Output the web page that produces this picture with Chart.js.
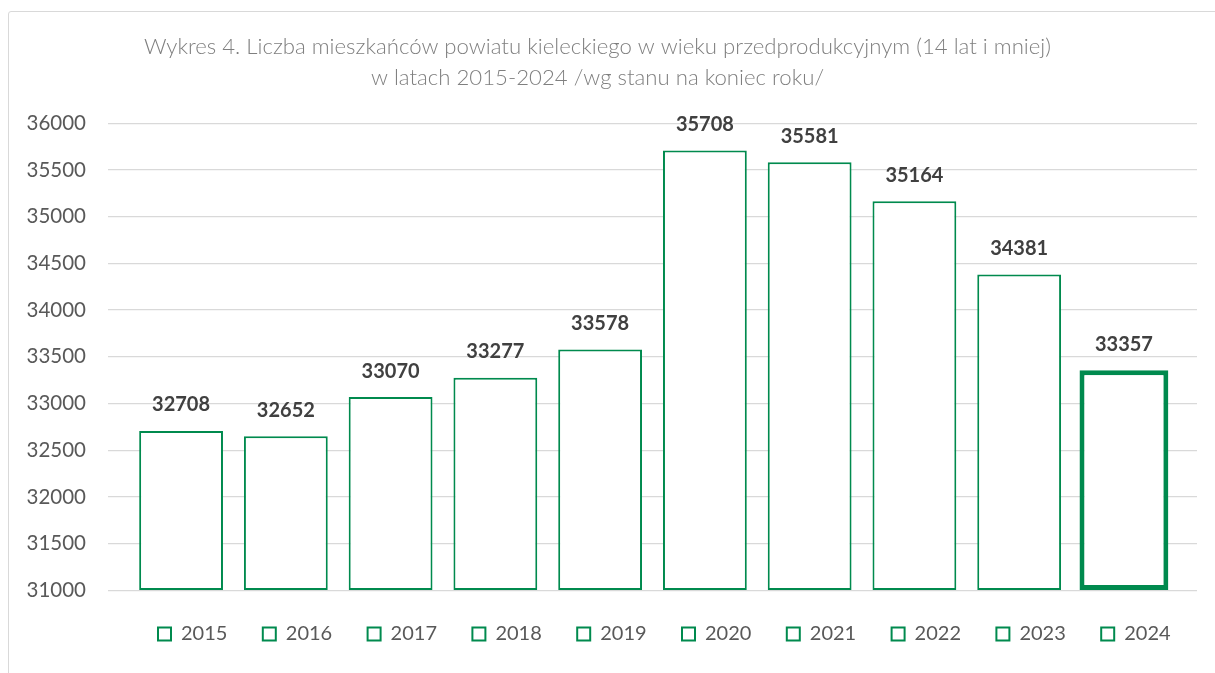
<!DOCTYPE html>
<html lang="pl">
<head>
<meta charset="utf-8">
<title>Wykres 4</title>
<script src="https://cdn.jsdelivr.net/npm/chart.js@4/dist/chart.umd.min.js"></script>
<style>
  html, body { margin: 0; padding: 0; background: #fff; overflow: hidden; }
  #frame {
    position: absolute; left: 8px; top: 11px; width: 1230px; height: 690px;
    border: 1.5px solid #d9d9d9; border-radius: 3px; box-sizing: border-box;
  }
  #chart { position: absolute; left: 0; top: 0; }
</style>
</head>
<body>
<div id="frame"></div>
<canvas id="chart" width="1215" height="673"></canvas>
<script>
const years = ['2015', '2016', '2017', '2018', '2019', '2020', '2021', '2022', '2023', '2024'];
const residents = [32708, 32652, 33070, 33277, 33578, 35708, 35581, 35164, 34381, 33357];
const titleLines = [
    'Wykres 4. Liczba mieszkańców powiatu kieleckiego w wieku przedprodukcyjnym (14 lat i mniej)',
    'w latach 2015-2024 /wg stanu na koniec roku/'
];
const yMin = 31000;
const yMax = 36000;
const yStep = 500;

const green = '#008a4e';
const legendPad = 35.4;

// value above every bar
const valueLabels = {
    id: 'valueLabels',
    afterDatasetsDraw(chart) {
        const ctx = chart.ctx;
        ctx.save();
        ctx.font = 'bold 20px Lato';
        ctx.fillStyle = '#404040';
        ctx.textAlign = 'center';
        ctx.textBaseline = 'middle';
        chart.data.datasets.forEach((ds, i) => {
            const bar = chart.getDatasetMeta(i).data[0];
            ctx.fillText(ds.data[0], bar.x, bar.y - 26);
        });
        ctx.restore();
    }
};

// legend sits under the plot like in excel, title a bit left
const placeBoxes = {
    id: 'placeBoxes',
    afterLayout(chart) {
        const lg = chart.legend;
        lg.left = chart.chartArea.left + 50 - legendPad;
        lg.right = 1400;
        lg.top = 634 - legendPad - 10;
        chart.titleBlock.left = -2;
        chart.titleBlock.right = 1197;
    }
};

const datasets = years.map((y, i) => ({
    label: y,
    data: [residents[i]],
    base: yMin,
    backgroundColor: '#ffffff',
    borderColor: green,
    borderWidth: i === years.length - 1 ? 5 : 2,
    barPercentage: i === years.length - 1 ? 0.848 : 0.8,
    categoryPercentage: 0.962,
    borderSkipped: false
}));

new Chart(document.getElementById('chart').getContext('2d'), {
    type: 'bar',
    data: { labels: [''], datasets: datasets },
    options: {
        responsive: false,
        animation: false,
        layout: { padding: { left: 8, right: 18, top: 0, bottom: 17 } },
        scales: {
            x: { display: false },
            y: {
                min: yMin,
                max: yMax,
                ticks: {
                    stepSize: yStep,
                    padding: 22,
                    color: '#595959',
                    font: { family: 'Lato', size: 20.5 },
                    callback: (v) => String(v)
                },
                grid: { color: '#d9d9d9', lineWidth: 1.3, drawTicks: false },
                border: { display: false },
                afterFit: (scale) => { scale.width = 100; }
            }
        },
        plugins: {
            title: {
                display: true,
                text: titleLines,
                color: '#7f7f7f',
                font: { family: 'Lato', size: 22.2, weight: 300, lineHeight: 1.4 },
                padding: { top: 31.5, bottom: 29.5 }
            },
            legend: {
                position: 'bottom',
                align: 'start',
                labels: {
                    boxWidth: 13,
                    boxHeight: 13,
                    padding: legendPad,
                    color: '#595959',
                    font: { family: 'Lato', size: 20 },
                    generateLabels: (chart) => chart.data.datasets.map((ds, i) => ({
                        text: ds.label,
                        fillStyle: '#ffffff',
                        strokeStyle: green,
                        lineWidth: 2,
                        fontColor: '#595959',
                        hidden: false,
                        datasetIndex: i
                    }))
                }
            },
            tooltip: { enabled: false }
        }
    },
    plugins: [valueLabels, placeBoxes]
});
</script>
</body>
</html>
